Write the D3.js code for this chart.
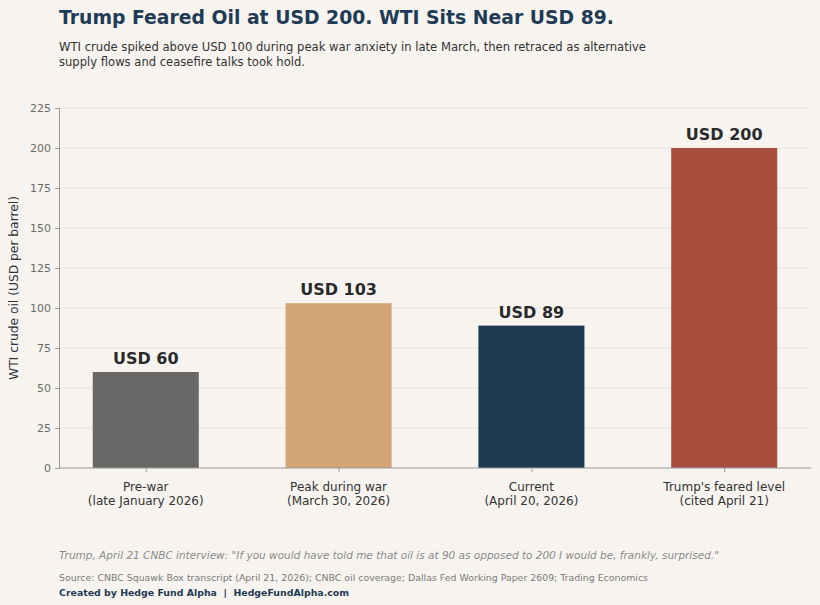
<!DOCTYPE html>
<html><head><meta charset="utf-8">
<script src="https://cdn.jsdelivr.net/npm/d3@7"></script>
<style>
html,body{margin:0;padding:0;background:#f7f4ef;}
svg{display:block;font-family:"DejaVu Sans",sans-serif;}
text{white-space:pre;}
</style></head>
<body><svg id="c" width="820" height="605"></svg>
<script>
const categories = ["Pre-war\n(late January 2026)", "Peak during war\n(March 30, 2026)", "Current\n(April 20, 2026)", "Trump's feared level\n(cited April 21)"];
const values = [60, 103, 89, 200];
const valueLabels = ["USD 60", "USD 103", "USD 89", "USD 200"];
const colors = ["#696867", "#d4a574", "#1c3a52", "#a84d3e"];
const yTicks = [0, 25, 50, 75, 100, 125, 150, 175, 200, 225];

const svg = d3.select("#c");
svg.append("rect").attr("width",820).attr("height",605).attr("fill","#f7f4ef");

const L = 59, R = 811, T = 108, B = 468;
const x = d3.scaleLinear().domain([-0.45, 3.45]).range([L, R]);
const y = d3.scaleLinear().domain([0, 225]).range([B, T]);
const bw = 0.55;

// grid
svg.append("g").selectAll("line").data(yTicks.slice(1)).join("line")
  .attr("x1", L).attr("x2", R).attr("y1", d=>y(d)).attr("y2", d=>y(d))
  .attr("stroke", "#d9d6d0").attr("stroke-width", 0.8).attr("stroke-dasharray", "2.5,1.5");

// bars
svg.append("g").selectAll("rect").data(values).join("rect")
  .attr("x", (d,i)=>x(i - bw/2)).attr("width", (d,i)=>x(i+bw/2)-x(i-bw/2))
  .attr("y", d=>y(d)).attr("height", d=>B - y(d))
  .attr("fill", (d,i)=>colors[i]);

// value labels
svg.append("g").selectAll("text").data(values).join("text")
  .attr("x", (d,i)=>x(i)).attr("y", d=>y(d)-8)
  .attr("text-anchor","middle").attr("font-size",16).attr("font-weight","bold")
  .attr("fill","#2a2a2a").text((d,i)=>valueLabels[i]);

// y axis
const yAxis = d3.axisLeft(y).tickValues(yTicks).tickSize(4).tickPadding(4);
const gy = svg.append("g").attr("transform",`translate(${L},0)`).call(yAxis);
gy.select(".domain").attr("stroke","#9a9a9a");
gy.selectAll(".tick line").attr("stroke","#9a9a9a");
gy.selectAll(".tick text").attr("fill","#6a6a6a").attr("font-size",11).attr("font-family","DejaVu Sans");

// x axis
const xAxis = d3.axisBottom(x).tickValues([0,1,2,3]).tickSize(4).tickFormat("");
const gx = svg.append("g").attr("transform",`translate(0,${B})`).call(xAxis);
gx.select(".domain").attr("stroke","#9a9a9a").attr("d",`M${L},0H${R}`);
gx.selectAll(".tick line").attr("stroke","#9a9a9a");
const xl = svg.append("g").selectAll("text").data(categories).join("text")
  .attr("text-anchor","middle").attr("font-size",12).attr("fill","#333");
xl.each(function(d,i){
  const t = d3.select(this);
  d.split("\n").forEach((s,j)=>{
    t.append("tspan").attr("x", x(i)).attr("y", 491 + j*14).text(s);
  });
});

// y label
svg.append("text").attr("transform","translate(18,288) rotate(-90)")
  .attr("text-anchor","middle").attr("font-size",12.5).attr("fill","#333")
  .attr("textLength",184).attr("lengthAdjust","spacingAndGlyphs")
  .text("WTI crude oil (USD per barrel)");

// title
svg.append("text").attr("x",59).attr("y",24).attr("font-size",20).attr("font-weight","bold")
  .attr("fill","#1f3b55").attr("textLength",555).attr("lengthAdjust","spacingAndGlyphs")
  .text("Trump Feared Oil at USD 200. WTI Sits Near USD 89.");
svg.append("text").attr("x",59).attr("y",51).attr("font-size",12).attr("fill","#333")
  .attr("textLength",587).attr("lengthAdjust","spacingAndGlyphs")
  .text("WTI crude spiked above USD 100 during peak war anxiety in late March, then retraced as alternative");
svg.append("text").attr("x",59).attr("y",66).attr("font-size",12).attr("fill","#333")
  .attr("textLength",246).attr("lengthAdjust","spacingAndGlyphs")
  .text("supply flows and ceasefire talks took hold.");

// footer
svg.append("text").attr("x",59).attr("y",559).attr("font-size",11).attr("font-style","italic").attr("fill","#8a8a8a")
  .attr("textLength",660).attr("lengthAdjust","spacingAndGlyphs")
  .text("Trump, April 21 CNBC interview: \"If you would have told me that oil is at 90 as opposed to 200 I would be, frankly, surprised.\"");
svg.append("text").attr("x",59).attr("y",581).attr("font-size",9.5).attr("fill","#7a7a7a")
  .attr("textLength",589).attr("lengthAdjust","spacingAndGlyphs")
  .text("Source: CNBC Squawk Box transcript (April 21, 2026); CNBC oil coverage; Dallas Fed Working Paper 2609; Trading Economics");
svg.append("text").attr("x",59).attr("y",596).attr("font-size",9.5).attr("font-weight","bold").attr("fill","#1f3b55")
  .attr("textLength",290).attr("lengthAdjust","spacingAndGlyphs")
  .text("Created by Hedge Fund Alpha  |  HedgeFundAlpha.com");
</script></body></html>
